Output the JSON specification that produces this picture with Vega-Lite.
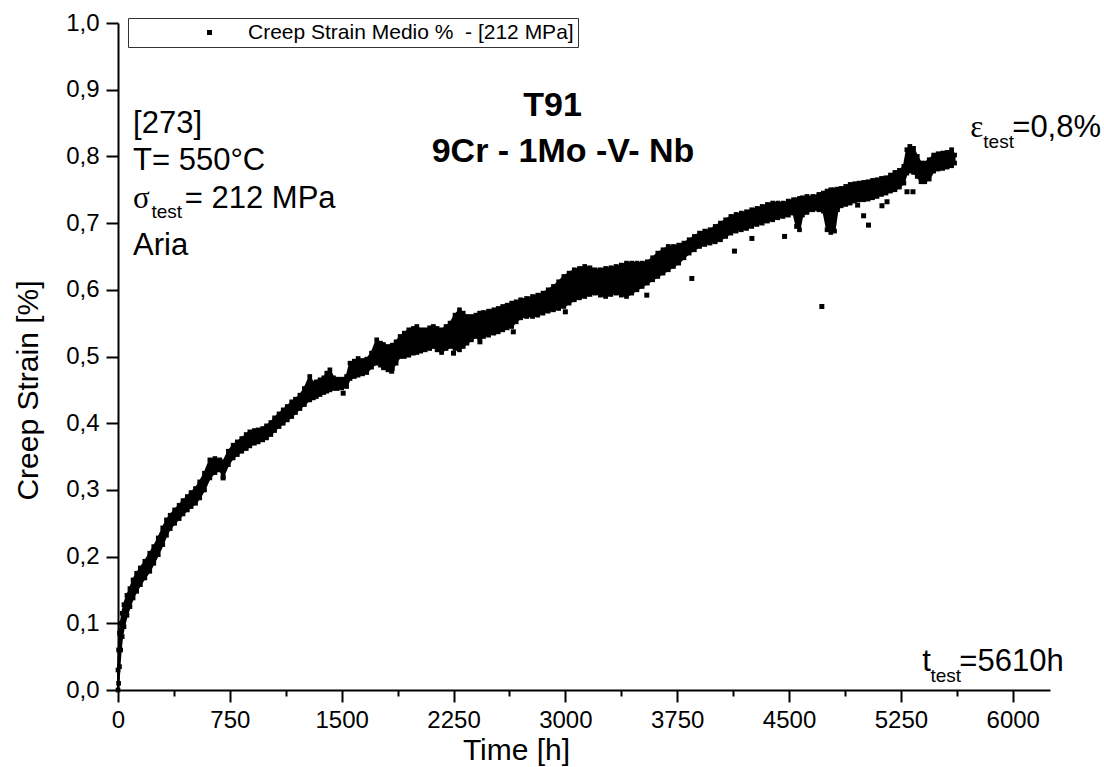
{
  "$schema": "https://vega.github.io/schema/vega-lite/v6.json",
  "width": 932,
  "height": 667,
  "autosize": {"type": "none"},
  "padding": {"left": 118, "top": 23, "right": 54, "bottom": 77},
  "background": "white",
  "config": {
    "font": "Liberation Sans",
    "view": {"stroke": null},
    "axis": {
      "domainColor": "black", "domainWidth": 2, "tickColor": "black", "tickWidth": 2,
      "labelFont": "Liberation Sans", "labelFontSize": 24, "labelColor": "black",
      "titleFont": "Liberation Sans", "titleFontSize": 30, "titleFontWeight": "normal", "titleColor": "black",
      "grid": false, "labelOverlap": false, "labelFlush": false, "labelBound": false
    }
  },
  "datasets": {
    "band": [
      {"t":0,"lo":0,"hi":0.03},{"t":4,"lo":0.01,"hi":0.06},{"t":10,"lo":0.035,"hi":0.085},{"t":18,"lo":0.06,"hi":0.1},
      {"t":28,"lo":0.08,"hi":0.115},{"t":40,"lo":0.095,"hi":0.128},{"t":60,"lo":0.112,"hi":0.142},{"t":80,"lo":0.125,"hi":0.152},
      {"t":101,"lo":0.138,"hi":0.165},{"t":125,"lo":0.148,"hi":0.175},{"t":150,"lo":0.158,"hi":0.183},{"t":180,"lo":0.168,"hi":0.193},
      {"t":213,"lo":0.178,"hi":0.205},{"t":240,"lo":0.19,"hi":0.215},{"t":270,"lo":0.203,"hi":0.228},{"t":300,"lo":0.218,"hi":0.243},
      {"t":325,"lo":0.232,"hi":0.255},{"t":350,"lo":0.242,"hi":0.262},{"t":380,"lo":0.25,"hi":0.27},{"t":410,"lo":0.257,"hi":0.277},
      {"t":436,"lo":0.264,"hi":0.284},{"t":465,"lo":0.27,"hi":0.29},{"t":490,"lo":0.275,"hi":0.296},{"t":520,"lo":0.28,"hi":0.302},
      {"t":548,"lo":0.288,"hi":0.312},{"t":580,"lo":0.3,"hi":0.325},{"t":616,"lo":0.318,"hi":0.345},{"t":650,"lo":0.326,"hi":0.347},
      {"t":683,"lo":0.33,"hi":0.345},{"t":705,"lo":0.32,"hi":0.342},{"t":740,"lo":0.338,"hi":0.358},{"t":772,"lo":0.348,"hi":0.367},
      {"t":800,"lo":0.353,"hi":0.372},{"t":830,"lo":0.358,"hi":0.377},{"t":860,"lo":0.362,"hi":0.383},{"t":884,"lo":0.366,"hi":0.387},
      {"t":915,"lo":0.37,"hi":0.389},{"t":940,"lo":0.372,"hi":0.39},{"t":970,"lo":0.375,"hi":0.392},{"t":996,"lo":0.378,"hi":0.396},
      {"t":1025,"lo":0.383,"hi":0.401},{"t":1050,"lo":0.389,"hi":0.408},{"t":1080,"lo":0.395,"hi":0.414},{"t":1108,"lo":0.4,"hi":0.42},
      {"t":1135,"lo":0.405,"hi":0.425},{"t":1165,"lo":0.41,"hi":0.432},{"t":1190,"lo":0.416,"hi":0.436},{"t":1220,"lo":0.422,"hi":0.442},
      {"t":1250,"lo":0.428,"hi":0.452},{"t":1286,"lo":0.435,"hi":0.47},{"t":1310,"lo":0.438,"hi":0.46},{"t":1330,"lo":0.44,"hi":0.462},
      {"t":1355,"lo":0.443,"hi":0.465},{"t":1380,"lo":0.446,"hi":0.468},{"t":1400,"lo":0.448,"hi":0.475},{"t":1421,"lo":0.45,"hi":0.48},
      {"t":1445,"lo":0.452,"hi":0.468},{"t":1470,"lo":0.452,"hi":0.466},{"t":1500,"lo":0.453,"hi":0.466},{"t":1533,"lo":0.455,"hi":0.47},
      {"t":1556,"lo":0.467,"hi":0.49},{"t":1585,"lo":0.47,"hi":0.493},{"t":1610,"lo":0.472,"hi":0.497},{"t":1640,"lo":0.474,"hi":0.494},
      {"t":1668,"lo":0.476,"hi":0.496},{"t":1700,"lo":0.484,"hi":0.505},{"t":1735,"lo":0.49,"hi":0.525},{"t":1760,"lo":0.487,"hi":0.52},
      {"t":1780,"lo":0.483,"hi":0.518},{"t":1810,"lo":0.48,"hi":0.515},{"t":1840,"lo":0.482,"hi":0.517},{"t":1865,"lo":0.49,"hi":0.522},
      {"t":1892,"lo":0.5,"hi":0.53},{"t":1920,"lo":0.5,"hi":0.535},{"t":1950,"lo":0.502,"hi":0.54},{"t":1980,"lo":0.505,"hi":0.542},
      {"t":2004,"lo":0.506,"hi":0.545},{"t":2030,"lo":0.508,"hi":0.54},{"t":2060,"lo":0.51,"hi":0.54},{"t":2090,"lo":0.512,"hi":0.543},
      {"t":2115,"lo":0.515,"hi":0.545},{"t":2140,"lo":0.51,"hi":0.542},{"t":2170,"lo":0.506,"hi":0.54},{"t":2200,"lo":0.512,"hi":0.545},
      {"t":2227,"lo":0.515,"hi":0.55},{"t":2260,"lo":0.512,"hi":0.562},{"t":2290,"lo":0.51,"hi":0.57},{"t":2315,"lo":0.515,"hi":0.565},
      {"t":2340,"lo":0.52,"hi":0.56},{"t":2370,"lo":0.525,"hi":0.56},{"t":2400,"lo":0.53,"hi":0.562},{"t":2425,"lo":0.528,"hi":0.565},
      {"t":2451,"lo":0.53,"hi":0.566},{"t":2485,"lo":0.532,"hi":0.568},{"t":2520,"lo":0.535,"hi":0.57},{"t":2550,"lo":0.537,"hi":0.572},
      {"t":2580,"lo":0.54,"hi":0.575},{"t":2610,"lo":0.543,"hi":0.577},{"t":2640,"lo":0.545,"hi":0.58},{"t":2670,"lo":0.552,"hi":0.582},
      {"t":2700,"lo":0.558,"hi":0.585},{"t":2740,"lo":0.56,"hi":0.587},{"t":2780,"lo":0.56,"hi":0.59},{"t":2815,"lo":0.562,"hi":0.592},
      {"t":2850,"lo":0.565,"hi":0.595},{"t":2885,"lo":0.568,"hi":0.6},{"t":2920,"lo":0.57,"hi":0.605},{"t":2955,"lo":0.572,"hi":0.612},
      {"t":2990,"lo":0.575,"hi":0.62},{"t":3025,"lo":0.58,"hi":0.625},{"t":3060,"lo":0.585,"hi":0.63},{"t":3095,"lo":0.588,"hi":0.632},
      {"t":3130,"lo":0.59,"hi":0.635},{"t":3165,"lo":0.593,"hi":0.633},{"t":3200,"lo":0.595,"hi":0.63},{"t":3235,"lo":0.592,"hi":0.63},
      {"t":3270,"lo":0.59,"hi":0.632},{"t":3305,"lo":0.593,"hi":0.633},{"t":3340,"lo":0.595,"hi":0.635},{"t":3375,"lo":0.592,"hi":0.637},
      {"t":3410,"lo":0.59,"hi":0.64},{"t":3445,"lo":0.595,"hi":0.64},{"t":3480,"lo":0.6,"hi":0.64},{"t":3515,"lo":0.605,"hi":0.64},
      {"t":3550,"lo":0.61,"hi":0.642},{"t":3585,"lo":0.615,"hi":0.648},{"t":3620,"lo":0.62,"hi":0.655},{"t":3655,"lo":0.625,"hi":0.66},
      {"t":3690,"lo":0.63,"hi":0.665},{"t":3725,"lo":0.635,"hi":0.665},{"t":3760,"lo":0.64,"hi":0.667},{"t":3795,"lo":0.648,"hi":0.67},
      {"t":3830,"lo":0.655,"hi":0.675},{"t":3865,"lo":0.66,"hi":0.68},{"t":3900,"lo":0.665,"hi":0.685},{"t":3935,"lo":0.668,"hi":0.688},
      {"t":3970,"lo":0.67,"hi":0.69},{"t":4005,"lo":0.672,"hi":0.695},{"t":4040,"lo":0.675,"hi":0.7},{"t":4075,"lo":0.68,"hi":0.705},
      {"t":4110,"lo":0.685,"hi":0.71},{"t":4145,"lo":0.688,"hi":0.713},{"t":4180,"lo":0.69,"hi":0.715},{"t":4215,"lo":0.692,"hi":0.717},
      {"t":4250,"lo":0.695,"hi":0.72},{"t":4285,"lo":0.698,"hi":0.722},{"t":4320,"lo":0.7,"hi":0.725},{"t":4355,"lo":0.703,"hi":0.728},
      {"t":4390,"lo":0.705,"hi":0.73},{"t":4425,"lo":0.708,"hi":0.73},{"t":4460,"lo":0.71,"hi":0.73},{"t":4495,"lo":0.712,"hi":0.733},
      {"t":4530,"lo":0.715,"hi":0.735},{"t":4550,"lo":0.695,"hi":0.735},{"t":4570,"lo":0.69,"hi":0.737},{"t":4590,"lo":0.712,"hi":0.738},
      {"t":4620,"lo":0.716,"hi":0.74},{"t":4660,"lo":0.72,"hi":0.74},{"t":4700,"lo":0.72,"hi":0.743},{"t":4730,"lo":0.718,"hi":0.745},
      {"t":4755,"lo":0.69,"hi":0.748},{"t":4780,"lo":0.686,"hi":0.75},{"t":4805,"lo":0.688,"hi":0.75},{"t":4825,"lo":0.72,"hi":0.751},
      {"t":4850,"lo":0.726,"hi":0.752},{"t":4880,"lo":0.728,"hi":0.755},{"t":4910,"lo":0.73,"hi":0.758},{"t":4940,"lo":0.733,"hi":0.759},
      {"t":4970,"lo":0.735,"hi":0.76},{"t":5000,"lo":0.735,"hi":0.761},{"t":5030,"lo":0.736,"hi":0.762},{"t":5060,"lo":0.738,"hi":0.764},
      {"t":5090,"lo":0.74,"hi":0.765},{"t":5120,"lo":0.743,"hi":0.767},{"t":5150,"lo":0.745,"hi":0.768},{"t":5180,"lo":0.748,"hi":0.772},
      {"t":5210,"lo":0.75,"hi":0.776},{"t":5240,"lo":0.754,"hi":0.779},{"t":5270,"lo":0.76,"hi":0.785},{"t":5290,"lo":0.775,"hi":0.81},
      {"t":5310,"lo":0.778,"hi":0.815},{"t":5335,"lo":0.776,"hi":0.812},{"t":5360,"lo":0.77,"hi":0.8},{"t":5385,"lo":0.762,"hi":0.79},
      {"t":5410,"lo":0.762,"hi":0.79},{"t":5440,"lo":0.766,"hi":0.795},{"t":5470,"lo":0.778,"hi":0.802},{"t":5500,"lo":0.781,"hi":0.804},
      {"t":5530,"lo":0.782,"hi":0.805},{"t":5560,"lo":0.784,"hi":0.806},{"t":5590,"lo":0.786,"hi":0.81},{"t":5610,"lo":0.79,"hi":0.802}
    ],
    "outliers": [
      {"t":705,"s":0.318},{"t":1510,"s":0.445},{"t":1835,"s":0.478},{"t":2250,"s":0.505},{"t":2427,"s":0.522},
      {"t":2651,"s":0.537},{"t":3000,"s":0.567},{"t":3546,"s":0.592},{"t":3848,"s":0.617},{"t":4134,"s":0.658},
      {"t":4251,"s":0.677},{"t":4470,"s":0.68},{"t":4720,"s":0.575},{"t":4960,"s":0.727},{"t":5000,"s":0.711},
      {"t":5033,"s":0.697},{"t":5123,"s":0.726},{"t":5157,"s":0.732},{"t":5291,"s":0.747},{"t":5331,"s":0.747}
    ],
    "notes": [
      {"t":101,"s":0.8346,"label":"[273]","kind":"main"},
      {"t":101,"s":0.7796,"label":"T= 550°C","kind":"main"},
      {"t":101,"s":0.7222,"label":"σ","kind":"greek"},
      {"t":224,"s":0.7076,"label":"test","kind":"sub"},
      {"t":448,"s":0.7222,"label":"= 212 MPa","kind":"main"},
      {"t":101,"s":0.6522,"label":"Aria","kind":"main"},
      {"t":5716,"s":0.829,"label":"ε","kind":"greek"},
      {"t":5803,"s":0.8126,"label":"test","kind":"sub"},
      {"t":5997,"s":0.829,"label":"=0,8%","kind":"main"},
      {"t":5394,"s":0.0289,"label":"t","kind":"main"},
      {"t":5448,"s":0.0124,"label":"test","kind":"sub"},
      {"t":5642,"s":0.0289,"label":"=5610h","kind":"main"},
      {"t":2914,"s":0.86,"label":"T91","kind":"title"},
      {"t":2984,"s":0.792,"label":"9Cr - 1Mo -V- Nb","kind":"title"}
    ]
  },
  "layer": [
    {
      "data": {"name": "band"},
      "mark": {"type": "area", "color": "black", "stroke": "black", "strokeWidth": 2},
      "encoding": {
        "x": {
          "field": "t", "type": "quantitative",
          "scale": {"domain": [0, 6250], "nice": false, "zero": false},
          "axis": {
            "values": [0,375,750,1125,1500,1875,2250,2625,3000,3375,3750,4125,4500,4875,5250,5625,6000],
            "labelExpr": "datum.value % 750 === 0 ? format(datum.value, 'd') : ''",
            "tickSize": {"condition": {"test": "datum.value % 750 === 0", "value": 12}, "value": 6},
            "labelPadding": 6,
            "title": "Time [h]",
            "titleX": 398, "titleY": 69, "titleAlign": "center", "titleBaseline": "alphabetic", "titleAnchor": null
          }
        },
        "y": {
          "field": "lo", "type": "quantitative",
          "scale": {"domain": [0, 1], "nice": false},
          "axis": {
            "values": [0,0.05,0.1,0.15,0.2,0.25,0.3,0.35,0.4,0.45,0.5,0.55,0.6,0.65,0.7,0.75,0.8,0.85,0.9,0.95,1.0],
            "labelExpr": "abs(datum.value*10 - round(datum.value*10)) < 0.001 ? replace(format(datum.value, '.1f'), '.', ',') : ''",
            "tickSize": {"condition": {"test": "abs(datum.value*10 - round(datum.value*10)) < 0.001", "value": 12}, "value": 6},
            "labelPadding": 7,
            "title": "Creep Strain [%]",
            "titleX": -81, "titleY": 367, "titleAngle": 270, "titleAlign": "center", "titleBaseline": "alphabetic", "titleAnchor": null
          }
        },
        "y2": {"field": "hi"}
      }
    },
    {
      "data": {"name": "band"},
      "transform": [{"fold": ["lo", "hi"], "as": ["edge", "s"]}],
      "mark": {"type": "point", "shape": "square", "filled": true, "size": 22, "opacity": 1},
      "encoding": {
        "x": {"field": "t", "type": "quantitative"},
        "y": {"field": "s", "type": "quantitative"},
        "color": {
          "datum": "Creep Strain Medio %\u00a0 - [212 MPa]\u00a0\u00a0\u00a0\u00a0\u00a0",
          "scale": {"range": ["black"]},
          "legend": {
            "orient": "none", "legendX": 10, "legendY": -5, "title": null,
            "symbolType": "square", "symbolSize": 25, "symbolStrokeWidth": 0,
            "labelFont": "Liberation Sans", "labelFontSize": 21, "labelColor": "black", "labelLimit": 700,
            "strokeColor": "#333", "padding": 4, "symbolOffset": 67, "labelOffset": 28
          }
        }
      }
    },
    {
      "data": {"name": "outliers"},
      "mark": {"type": "point", "shape": "square", "filled": true, "size": 25, "opacity": 1},
      "encoding": {
        "x": {"field": "t", "type": "quantitative"},
        "y": {"field": "s", "type": "quantitative"},
        "color": {"datum": "Creep Strain Medio %\u00a0 - [212 MPa]\u00a0\u00a0\u00a0\u00a0\u00a0"}
      }
    },
    {
      "data": {"name": "notes"},
      "transform": [{"filter": "datum.kind === 'main'"}],
      "mark": {"type": "text", "align": "left", "baseline": "alphabetic", "font": "Liberation Sans", "fontSize": 31, "color": "black"},
      "encoding": {
        "x": {"field": "t", "type": "quantitative"},
        "y": {"field": "s", "type": "quantitative"},
        "text": {"field": "label"}
      }
    },
    {
      "data": {"name": "notes"},
      "transform": [{"filter": "datum.kind === 'greek'"}],
      "mark": {"type": "text", "align": "left", "baseline": "alphabetic", "font": "Liberation Serif", "fontSize": 31, "color": "black"},
      "encoding": {
        "x": {"field": "t", "type": "quantitative"},
        "y": {"field": "s", "type": "quantitative"},
        "text": {"field": "label"}
      }
    },
    {
      "data": {"name": "notes"},
      "transform": [{"filter": "datum.kind === 'sub'"}],
      "mark": {"type": "text", "align": "left", "baseline": "alphabetic", "font": "Liberation Sans", "fontSize": 19, "color": "black"},
      "encoding": {
        "x": {"field": "t", "type": "quantitative"},
        "y": {"field": "s", "type": "quantitative"},
        "text": {"field": "label"}
      }
    },
    {
      "data": {"name": "notes"},
      "transform": [{"filter": "datum.kind === 'title'"}],
      "mark": {"type": "text", "align": "center", "baseline": "alphabetic", "font": "Liberation Sans", "fontSize": 34, "fontWeight": "bold", "color": "black"},
      "encoding": {
        "x": {"field": "t", "type": "quantitative"},
        "y": {"field": "s", "type": "quantitative"},
        "text": {"field": "label"}
      }
    }
  ]
}
